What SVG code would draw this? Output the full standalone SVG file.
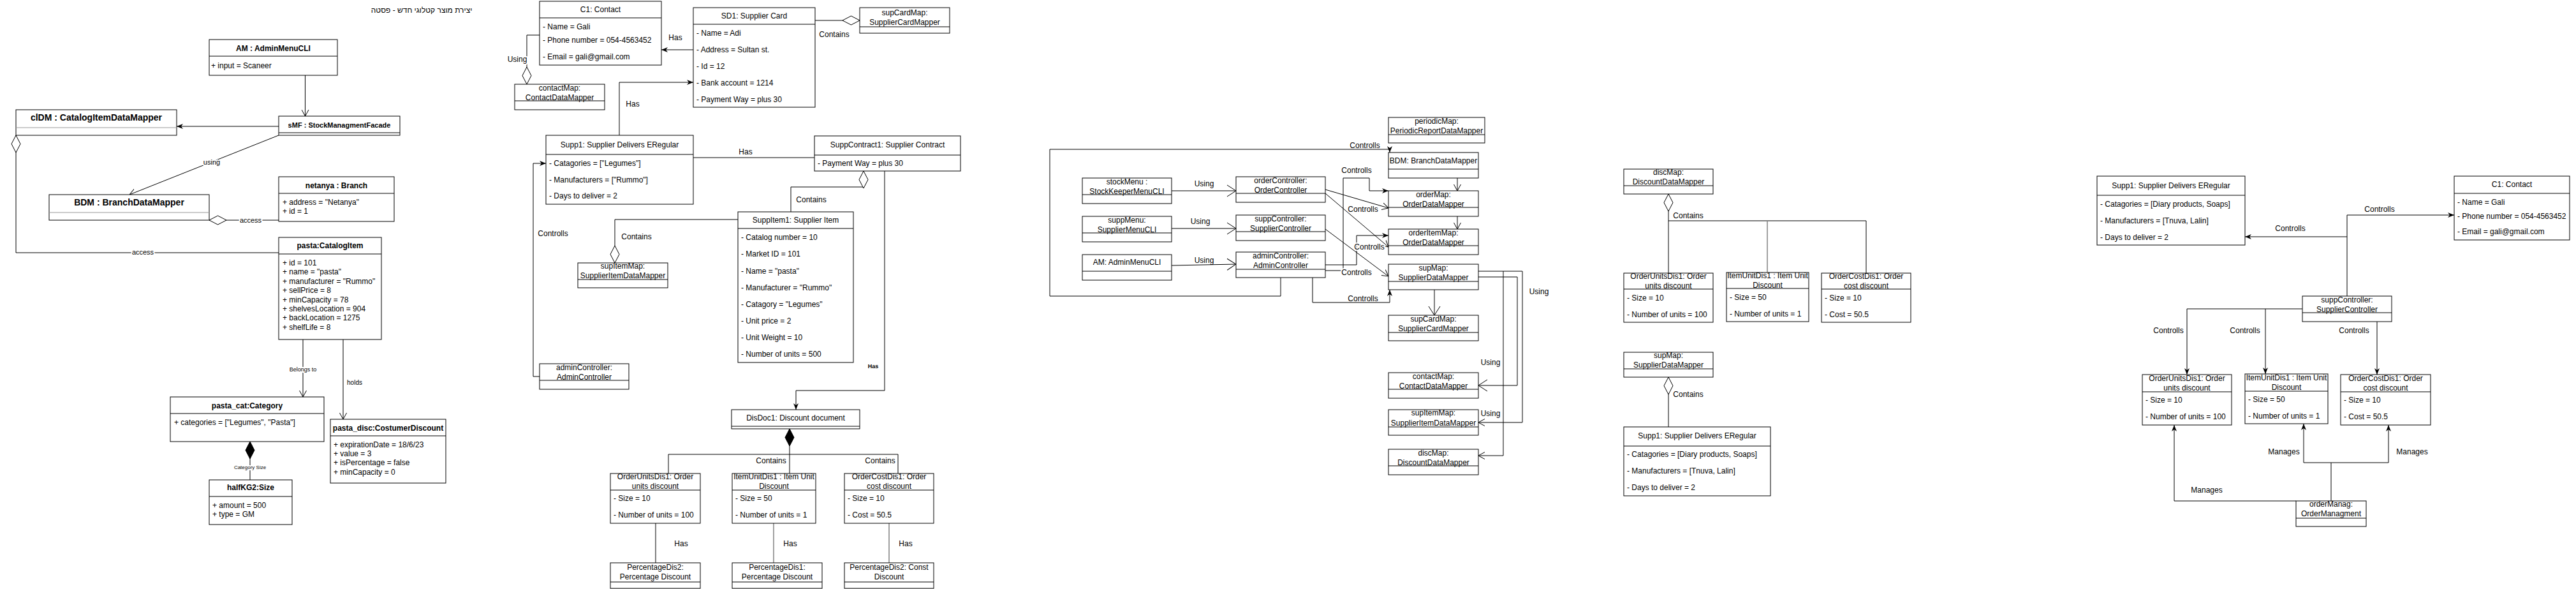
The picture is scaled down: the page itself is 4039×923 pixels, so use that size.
<svg xmlns="http://www.w3.org/2000/svg" width="4039" height="923" viewBox="0 0 4039 923">
<style>
.bx{fill:#fff;stroke:#000;stroke-width:1}
.sp{stroke:#000;stroke-width:1}
.sg{stroke:#999;stroke-width:1}
text{font-family:"Liberation Sans",Arial,Helvetica,sans-serif;font-size:12px;fill:#000}
.c{text-anchor:middle}
.b{font-weight:bold}
.e{fill:none;stroke:#000;stroke-width:1}
.g{fill:none;stroke:#808080;stroke-width:1.5}
.l{paint-order:stroke;stroke:#fff;stroke-width:4px;stroke-linejoin:round}
</style>
<defs>
<marker id="blk" viewBox="0 0 10 8" refX="10" refY="4" markerWidth="10" markerHeight="8" markerUnits="userSpaceOnUse" orient="auto"><path d="M0,0 L10,4 L0,8 L3,4 z" fill="#000"/></marker>
<marker id="opn" viewBox="0 0 10 12" refX="10" refY="6" markerWidth="10" markerHeight="12" markerUnits="userSpaceOnUse" orient="auto"><path d="M0,0.5 L10,6 L0,11.5" fill="none" stroke="#000"/></marker>
<marker id="opnL" viewBox="0 0 14 20" refX="14" refY="10" markerWidth="14" markerHeight="20" markerUnits="userSpaceOnUse" orient="auto"><path d="M0,1 L14,10 L0,19" fill="none" stroke="#000"/></marker>
<marker id="dia" viewBox="0 0 28 16" refX="0.5" refY="8" markerWidth="28" markerHeight="16" markerUnits="userSpaceOnUse" orient="auto"><path d="M0.5,8 L14,1 L27.5,8 L14,15 z" fill="#fff" stroke="#000"/></marker>
<marker id="diaF" viewBox="0 0 28 16" refX="0.5" refY="8" markerWidth="28" markerHeight="16" markerUnits="userSpaceOnUse" orient="auto"><path d="M0.5,8 L14,1 L27.5,8 L14,15 z" fill="#000" stroke="#000"/></marker>
</defs>
<rect x="0" y="0" width="4039" height="923" fill="#fff"/>
<text id="title" x="661" y="20" class="c">יצירת מוצר קטלוגי חדש - פסטה</text>

<g id="connectors">
<!-- left cluster -->
<path class="e" d="M478.5,118 V182" marker-end="url(#opn)"/>
<path class="e" d="M437,198 H277" marker-end="url(#blk)"/>
<path class="e" d="M437,212 L203,305" marker-end="url(#opn)"/>
<path class="e" d="M328,345 H437" marker-start="url(#dia)"/>
<path class="e" d="M25,212 V396 H437" marker-start="url(#dia)"/>
<path class="e" d="M475,532 V622" marker-end="url(#opn)"/>
<path class="e" d="M538,532 V657" marker-end="url(#opn)"/>
<path class="e" d="M392,692 V752" marker-start="url(#diaF)"/>
<text x="332" y="258" class="c l" style="font-size:11px">using</text>
<text x="393" y="349" class="c l" style="font-size:11px">access</text>
<text x="224" y="399" class="c l" style="font-size:11px">access</text>
<text x="475" y="582" class="c l" style="font-size:9px">Belongs to</text>
<text x="556" y="603" class="c" style="font-size:10px">holds</text>
<text x="392" y="735" class="c l" style="font-size:8px">Category Size</text>
<!-- middle cluster -->
<path class="e" d="M1087,78 H1037" marker-end="url(#blk)"/>
<path class="e" d="M1348,32 H1278" marker-start="url(#dia)"/>
<path class="e" d="M826,132 V55 H846" marker-start="url(#dia)"/>
<path class="e" d="M971,212 V129 H1087" marker-end="url(#blk)"/>
<path class="e" d="M1087,247 H1277"/>
<path class="e" d="M1354,268 V293 H1240 V332" marker-start="url(#dia)"/>
<path class="e" d="M964,412 V344 H1157" marker-start="url(#dia)"/>
<path class="e" d="M846,590 H836 V256 H856" marker-end="url(#blk)"/>
<path class="e" d="M1387,268 V612 H1248 V642" marker-end="url(#blk)"/>
<path class="e" d="M1238,672 V712" marker-start="url(#diaF)"/>
<path class="e" d="M1048,742 V712 H1408 V742"/>
<path class="e" d="M1238,712 V742"/>
<path class="e" d="M1028,820 V882"/>
<path class="g" d="M1213,820 V882"/>
<path class="g" d="M1394,820 V882"/>
<text x="1059" y="63" class="c">Has</text>
<text x="1308" y="58" class="c">Contains</text>
<text x="811" y="97" class="c l">Using</text>
<text x="992" y="167" class="c">Has</text>
<text x="1169" y="242" class="c">Has</text>
<text x="1272" y="317" class="c">Contains</text>
<text x="998" y="375" class="c">Contains</text>
<text x="867" y="370" class="c">Controlls</text>
<text x="1369" y="577" class="c b" style="font-size:9px">Has</text>
<text x="1209" y="726" class="c">Contains</text>
<text x="1380" y="726" class="c">Contains</text>
<text x="1068" y="856" class="c">Has</text>
<text x="1239" y="856" class="c">Has</text>
<text x="1420" y="856" class="c">Has</text>
<!-- controllers cluster -->
<path class="e" d="M1837,299 H1938" marker-end="url(#opnL)"/>
<path class="e" d="M1837,358 H1938" marker-end="url(#opnL)"/>
<path class="e" d="M1837,416 L1938,414" marker-end="url(#opnL)"/>
<path class="e" d="M2008,435 V464 H1646 V234 H2179 V239" marker-end="url(#blk)"/>
<path class="e" d="M2078,424 H2106 V279 H2147 V299 H2177" marker-end="url(#blk)"/>
<path class="e" d="M2078,415 H2127 V369 H2177" marker-end="url(#blk)"/>
<path class="e" d="M2078,297 L2177,326" marker-end="url(#opn)"/>
<path class="e" d="M2078,303 L2177,387" marker-end="url(#opn)"/>
<path class="e" d="M2078,359 L2177,433" marker-end="url(#opn)"/>
<path class="e" d="M2058,435 V474 H2179 V454" marker-end="url(#blk)"/>
<path class="e" d="M2285,279 V299" marker-end="url(#opn)"/>
<path class="e" d="M2285,339 V359" marker-end="url(#opn)"/>
<path class="e" d="M2249,454 V494" marker-end="url(#opnL)"/>
<path class="e" d="M2318,434 H2379 V604 H2318" marker-end="url(#opnL)"/>
<path class="e" d="M2318,425 H2387 V662 H2318" marker-end="url(#opn)"/>
<path class="e" d="M2357,425 V714 H2318" marker-end="url(#opn)"/>
<text x="1888" y="292" class="c">Using</text>
<text x="1882" y="351" class="c">Using</text>
<text x="1888" y="412" class="c">Using</text>
<text x="2140" y="232" class="c">Controlls</text>
<text x="2127" y="271" class="c">Controlls</text>
<text x="2137" y="332" class="c l">Controlls</text>
<text x="2147" y="391" class="c l">Controlls</text>
<text x="2127" y="431" class="c l">Controlls</text>
<text x="2137" y="472" class="c">Controlls</text>
<text x="2337" y="572" class="c">Using</text>
<text x="2337" y="652" class="c">Using</text>
<text x="2413" y="461" class="c">Using</text>
<!-- discMap cluster -->
<path class="e" d="M2616,304 V428" marker-start="url(#dia)"/>
<path class="e" d="M2616,346 H2926 V428"/>
<path class="g" d="M2771,346 V427"/>
<path class="e" d="M2616,591 V669" marker-start="url(#dia)"/>
<text x="2647" y="342" class="c">Contains</text>
<text x="2647" y="622" class="c">Contains</text>
<!-- right cluster -->
<path class="e" d="M3680,464 V337 H3848" marker-end="url(#blk)"/>
<path class="e" d="M3680,371 H3520" marker-end="url(#blk)"/>
<path class="e" d="M3610,484 H3429 V587" marker-end="url(#blk)"/>
<path class="e" d="M3552,484 V586" marker-end="url(#blk)"/>
<path class="e" d="M3727,504 V587" marker-end="url(#blk)"/>
<path class="e" d="M3600,785 H3409 V666" marker-end="url(#blk)"/>
<path class="e" d="M3655,785 V725"/>
<path class="e" d="M3612,725 H3745"/>
<path class="e" d="M3612,725 V664" marker-end="url(#blk)"/>
<path class="e" d="M3745,725 V666" marker-end="url(#blk)"/>
<text x="3731" y="332" class="c">Controlls</text>
<text x="3591" y="362" class="c">Controlls</text>
<text x="3400" y="522" class="c">Controlls</text>
<text x="3520" y="522" class="c">Controlls</text>
<text x="3691" y="522" class="c">Controlls</text>
<text x="3460" y="772" class="c">Manages</text>
<text x="3581" y="712" class="c">Manages</text>
<text x="3782" y="712" class="c">Manages</text>
</g>

<!-- ===== left cluster nodes ===== -->
<g id="AM"><rect class="bx" x="328" y="62" width="201" height="56"/><line class="sp" x1="328" y1="88" x2="529" y2="88"/><text x="428.5" y="80" class="c b">AM : AdminMenuCLI</text><text x="331" y="107">+ input = Scaneer</text></g>
<g id="sMF"><rect class="bx" x="437" y="182" width="190" height="30"/><line class="sp" x1="437" y1="208" x2="627" y2="208"/><text x="532" y="200" class="c b" style="font-size:11px">sMF : StockManagmentFacade</text></g>
<g id="clDM"><rect class="bx" x="25" y="172" width="252" height="40"/><line class="sg" x1="25" y1="200" x2="277" y2="200"/><text x="151" y="189" class="c b" style="font-size:14px">clDM : CatalogItemDataMapper</text></g>
<g id="BDM"><rect class="bx" x="77" y="305" width="251" height="40"/><line class="sg" x1="77" y1="333" x2="328" y2="333"/><text x="202.5" y="322" class="c b" style="font-size:14px">BDM : BranchDataMapper</text></g>
<g id="netanya"><rect class="bx" x="437" y="277" width="181" height="70"/><line class="sp" x1="437" y1="303" x2="618" y2="303"/><text x="527.5" y="295" class="c b">netanya : Branch</text><text x="443" y="321">+ address = "Netanya"</text><text x="443" y="335">+ id = 1</text></g>
<g id="pasta"><rect class="bx" x="437" y="372" width="161" height="160"/><line class="sp" x1="437" y1="398" x2="598" y2="398"/><text x="517.5" y="389" class="c b">pasta:CatalogItem</text>
<text x="443" y="416">+ id = 101</text><text x="443" y="430">+ name = "pasta"</text><text x="443" y="445">+ manufacturer = "Rummo"</text><text x="443" y="459">+ sellPrice = 8</text><text x="443" y="474">+ minCapacity = 78</text><text x="443" y="488">+ shelvesLocation = 904</text><text x="443" y="502">+ backLocation = 1275</text><text x="443" y="517">+ shelfLife = 8</text></g>
<g id="pasta_cat"><rect class="bx" x="267" y="622" width="241" height="70"/><line class="sp" x1="267" y1="648" x2="508" y2="648"/><text x="387.5" y="640" class="c b">pasta_cat:Category</text><text x="273" y="666">+ categories = ["Legumes", "Pasta"]</text></g>
<g id="halfKG2"><rect class="bx" x="328" y="752" width="130" height="70"/><line class="sp" x1="328" y1="778" x2="458" y2="778"/><text x="393" y="768" class="c b">halfKG2:Size</text><text x="333" y="796">+ amount = 500</text><text x="333" y="810">+ type = GM</text></g>
<g id="pasta_disc"><rect class="bx" x="518" y="657" width="181" height="100"/><line class="sp" x1="518" y1="683" x2="699" y2="683"/><text x="608.5" y="675" class="c b">pasta_disc:CostumerDiscount</text><text x="523" y="701">+ expirationDate = 18/6/23</text><text x="523" y="715">+ value = 3</text><text x="523" y="729">+ isPercentage = false</text><text x="523" y="744">+ minCapacity = 0</text></g>

<!-- ===== middle cluster nodes ===== -->
<g id="C1"><rect class="bx" x="846" y="2" width="191" height="100"/><line class="sp" x1="846" y1="28" x2="1037" y2="28"/><text x="941.5" y="19" class="c">C1: Contact</text><text x="851" y="46">- Name = Gali</text><text x="851" y="67">- Phone number = 054-4563452</text><text x="851" y="93">- Email = gali@gmail.com</text></g>
<g id="SD1"><rect class="bx" x="1087" y="12" width="191" height="156"/><line class="sp" x1="1087" y1="38" x2="1278" y2="38"/><text x="1182.5" y="29" class="c">SD1: Supplier Card</text><text x="1092" y="56">- Name = Adi</text><text x="1092" y="82">- Address = Sultan st.</text><text x="1092" y="108">- Id = 12</text><text x="1092" y="134">- Bank account = 1214</text><text x="1092" y="160">- Payment Way = plus 30</text></g>
<g id="supCardMap"><rect class="bx" x="1348" y="12" width="141" height="40"/><line class="sp" x1="1348" y1="42" x2="1489" y2="42"/><text x="1418.5" y="24" class="c">supCardMap:</text><text x="1418.5" y="39" class="c">SupplierCardMapper</text></g>
<g id="contactMap"><rect class="bx" x="807" y="132" width="141" height="40"/><line class="sp" x1="807" y1="158" x2="948" y2="158"/><text x="877.5" y="142" class="c">contactMap:</text><text x="877.5" y="157" class="c">ContactDataMapper</text></g>
<g id="Supp1"><rect class="bx" x="856" y="212" width="231" height="108"/><line class="sp" x1="856" y1="242" x2="1087" y2="242"/><text x="971.5" y="231" class="c">Supp1: Supplier Delivers ERegular</text><text x="861" y="260">- Catagories = ["Legumes"]</text><text x="861" y="286">- Manufacturers = ["Rummo"]</text><text x="861" y="311">- Days to deliver = 2</text></g>
<g id="SuppContract1"><rect class="bx" x="1277" y="213" width="229" height="55"/><line class="sp" x1="1277" y1="243" x2="1506" y2="243"/><text x="1391.5" y="231" class="c">SuppContract1: Supplier Contract</text><text x="1282" y="260">- Payment Way = plus 30</text></g>
<g id="SuppItem1"><rect class="bx" x="1157" y="332" width="181" height="236"/><line class="sp" x1="1157" y1="358" x2="1338" y2="358"/><text x="1247.5" y="349" class="c">SuppItem1: Supplier Item</text>
<text x="1162" y="376">- Catalog number = 10</text><text x="1162" y="402">- Market ID = 101</text><text x="1162" y="429">- Name = "pasta"</text><text x="1162" y="455">- Manufacturer = "Rummo"</text><text x="1162" y="481">- Catagory =  "Legumes"</text><text x="1162" y="507">- Unit price = 2</text><text x="1162" y="533">- Unit Weight = 10</text><text x="1162" y="559">- Number of units = 500</text></g>
<g id="supItemMap"><rect class="bx" x="906" y="412" width="141" height="39"/><line class="sp" x1="906" y1="438" x2="1047" y2="438"/><text x="976.5" y="421" class="c">supItemMap:</text><text x="976.5" y="436" class="c">SupplierItemDataMapper</text></g>
<g id="adminController"><rect class="bx" x="846" y="570" width="140" height="40"/><line class="sp" x1="846" y1="596" x2="986" y2="596"/><text x="916" y="580" class="c">adminController:</text><text x="916" y="595" class="c">AdminController</text></g>
<g id="DisDoc1"><rect class="bx" x="1147" y="642" width="201" height="30"/><line class="sp" x1="1147" y1="668" x2="1348" y2="668"/><text x="1247.5" y="659" class="c">DisDoc1: Discount document</text></g>
<g id="OrderUnitsDis1"><rect class="bx" x="957" y="742" width="141" height="78"/><line class="sp" x1="957" y1="768" x2="1098" y2="768"/><text x="1027.5" y="751" class="c">OrderUnitsDis1: Order</text><text x="1027.5" y="766" class="c">units discount</text><text x="962" y="785">- Size = 10</text><text x="962" y="811">- Number of units = 100</text></g>
<g id="ItemUnitDis1"><rect class="bx" x="1148" y="742" width="131" height="78"/><line class="sp" x1="1148" y1="768" x2="1279" y2="768"/><text x="1213.5" y="751" class="c">ItemUnitDis1 : Item Unit</text><text x="1213.5" y="766" class="c">Discount</text><text x="1153" y="785">- Size = 50</text><text x="1153" y="811">- Number of units = 1</text></g>
<g id="OrderCostDis1"><rect class="bx" x="1324" y="742" width="140" height="78"/><line class="sp" x1="1324" y1="768" x2="1464" y2="768"/><text x="1394" y="751" class="c">OrderCostDis1: Order</text><text x="1394" y="766" class="c">cost discount</text><text x="1329" y="785">- Size = 10</text><text x="1329" y="811">- Cost = 50.5</text></g>
<g id="PercentageDis2a"><rect class="bx" x="957" y="882" width="141" height="40"/><line class="sp" x1="957" y1="912" x2="1098" y2="912"/><text x="1027.5" y="893" class="c">PercentageDis2:</text><text x="1027.5" y="908" class="c">Percentage Discount</text></g>
<g id="PercentageDis1"><rect class="bx" x="1148" y="882" width="141" height="40"/><line class="sp" x1="1148" y1="912" x2="1289" y2="912"/><text x="1218.5" y="893" class="c">PercentageDis1:</text><text x="1218.5" y="908" class="c">Percentage Discount</text></g>
<g id="PercentageDis2b"><rect class="bx" x="1324" y="882" width="140" height="40"/><line class="sp" x1="1324" y1="912" x2="1464" y2="912"/><text x="1394" y="893" class="c">PercentageDis2: Const</text><text x="1394" y="908" class="c">Discount</text></g>

<!-- ===== controllers cluster nodes ===== -->
<g id="periodicMap"><rect class="bx" x="2177" y="184" width="151" height="40"/><line class="sp" x1="2177" y1="211" x2="2328" y2="211"/><text x="2252.5" y="194" class="c">periodicMap:</text><text x="2252.5" y="209" class="c">PeriodicReportDataMapper</text></g>
<g id="BDM2"><rect class="bx" x="2177" y="239" width="141" height="40"/><line class="sp" x1="2177" y1="265" x2="2318" y2="265"/><text x="2247.5" y="256" class="c">BDM: BranchDataMapper</text></g>
<g id="stockMenu"><rect class="bx" x="1697" y="279" width="140" height="40"/><line class="sp" x1="1697" y1="305" x2="1837" y2="305"/><text x="1767" y="289" class="c">stockMenu :</text><text x="1767" y="304" class="c">StockKeeperMenuCLI</text></g>
<g id="suppMenu"><rect class="bx" x="1697" y="339" width="140" height="40"/><line class="sp" x1="1697" y1="365" x2="1837" y2="365"/><text x="1767" y="349" class="c">suppMenu:</text><text x="1767" y="364" class="c">SupplierMenuCLI</text></g>
<g id="AM2"><rect class="bx" x="1697" y="399" width="140" height="40"/><line class="sp" x1="1697" y1="425" x2="1837" y2="425"/><text x="1767" y="415" class="c">AM: AdminMenuCLI</text></g>
<g id="orderController"><rect class="bx" x="1938" y="277" width="140" height="40"/><line class="sp" x1="1938" y1="303" x2="2078" y2="303"/><text x="2008" y="287" class="c">orderController:</text><text x="2008" y="302" class="c">OrderController</text></g>
<g id="suppController"><rect class="bx" x="1938" y="337" width="140" height="40"/><line class="sp" x1="1938" y1="363" x2="2078" y2="363"/><text x="2008" y="347" class="c">suppController:</text><text x="2008" y="362" class="c">SupplierController</text></g>
<g id="adminController2"><rect class="bx" x="1938" y="395" width="140" height="40"/><line class="sp" x1="1938" y1="422" x2="2078" y2="422"/><text x="2008" y="405" class="c">adminController:</text><text x="2008" y="420" class="c">AdminController</text></g>
<g id="orderMap"><rect class="bx" x="2177" y="299" width="141" height="40"/><line class="sp" x1="2177" y1="325" x2="2318" y2="325"/><text x="2247.5" y="309" class="c">orderMap:</text><text x="2247.5" y="324" class="c">OrderDataMapper</text></g>
<g id="orderItemMap"><rect class="bx" x="2177" y="359" width="141" height="40"/><line class="sp" x1="2177" y1="385" x2="2318" y2="385"/><text x="2247.5" y="369" class="c">orderItemMap:</text><text x="2247.5" y="384" class="c">OrderDataMapper</text></g>
<g id="supMap"><rect class="bx" x="2177" y="414" width="141" height="40"/><line class="sp" x1="2177" y1="441" x2="2318" y2="441"/><text x="2247.5" y="424" class="c">supMap:</text><text x="2247.5" y="439" class="c">SupplierDataMapper</text></g>
<g id="supCardMap2"><rect class="bx" x="2177" y="494" width="141" height="40"/><line class="sp" x1="2177" y1="521" x2="2318" y2="521"/><text x="2247.5" y="504" class="c">supCardMap:</text><text x="2247.5" y="519" class="c">SupplierCardMapper</text></g>
<g id="contactMap2"><rect class="bx" x="2177" y="584" width="141" height="40"/><line class="sp" x1="2177" y1="610" x2="2318" y2="610"/><text x="2247.5" y="594" class="c">contactMap:</text><text x="2247.5" y="609" class="c">ContactDataMapper</text></g>
<g id="supItemMap2"><rect class="bx" x="2177" y="642" width="141" height="40"/><line class="sp" x1="2177" y1="669" x2="2318" y2="669"/><text x="2247.5" y="651" class="c">supItemMap:</text><text x="2247.5" y="667" class="c">SupplierItemDataMapper</text></g>
<g id="discMap2"><rect class="bx" x="2177" y="704" width="141" height="40"/><line class="sp" x1="2177" y1="730" x2="2318" y2="730"/><text x="2247.5" y="714" class="c">discMap:</text><text x="2247.5" y="729" class="c">DiscountDataMapper</text></g>

<!-- ===== discMap cluster nodes ===== -->
<g id="discMap3"><rect class="bx" x="2546" y="265" width="140" height="39"/><line class="sp" x1="2546" y1="291" x2="2686" y2="291"/><text x="2616" y="274" class="c">discMap:</text><text x="2616" y="289" class="c">DiscountDataMapper</text></g>
<g id="OrderUnitsDis1b"><rect class="bx" x="2546" y="428" width="140" height="77"/><line class="sp" x1="2546" y1="453" x2="2686" y2="453"/><text x="2616" y="437" class="c">OrderUnitsDis1: Order</text><text x="2616" y="452" class="c">units discount</text><text x="2551" y="471">- Size = 10</text><text x="2551" y="497">- Number of units = 100</text></g>
<g id="ItemUnitDis1b"><rect class="bx" x="2707" y="427" width="129" height="77"/><line class="sp" x1="2707" y1="452" x2="2836" y2="452"/><text x="2771.5" y="436" class="c">ItemUnitDis1 : Item Unit</text><text x="2771.5" y="451" class="c">Discount</text><text x="2712" y="470">- Size = 50</text><text x="2712" y="496">- Number of units = 1</text></g>
<g id="OrderCostDis1b"><rect class="bx" x="2856" y="428" width="140" height="77"/><line class="sp" x1="2856" y1="453" x2="2996" y2="453"/><text x="2926" y="437" class="c">OrderCostDis1: Order</text><text x="2926" y="452" class="c">cost discount</text><text x="2861" y="471">- Size = 10</text><text x="2861" y="497">- Cost = 50.5</text></g>
<g id="supMap3"><rect class="bx" x="2546" y="552" width="140" height="39"/><line class="sp" x1="2546" y1="578" x2="2686" y2="578"/><text x="2616" y="561" class="c">supMap:</text><text x="2616" y="576" class="c">SupplierDataMapper</text></g>
<g id="Supp1b"><rect class="bx" x="2546" y="669" width="230" height="108"/><line class="sp" x1="2546" y1="699" x2="2776" y2="699"/><text x="2661" y="687" class="c">Supp1: Supplier Delivers ERegular</text><text x="2551" y="716">- Catagories = [Diary products, Soaps]</text><text x="2551" y="742">- Manufacturers = [Tnuva, Lalin]</text><text x="2551" y="768">- Days to deliver = 2</text></g>

<!-- ===== right cluster nodes ===== -->
<g id="Supp1c"><rect class="bx" x="3288" y="276" width="232" height="108"/><line class="sp" x1="3288" y1="306" x2="3520" y2="306"/><text x="3404" y="295" class="c">Supp1: Supplier Delivers ERegular</text><text x="3293" y="324">- Catagories = [Diary products, Soaps]</text><text x="3293" y="350">- Manufacturers = [Tnuva, Lalin]</text><text x="3293" y="376">- Days to deliver = 2</text></g>
<g id="C1b"><rect class="bx" x="3848" y="276" width="181" height="100"/><line class="sp" x1="3848" y1="303" x2="4029" y2="303"/><text x="3938.5" y="293" class="c">C1: Contact</text><text x="3853" y="321">- Name = Gali</text><text x="3853" y="343">- Phone number = 054-4563452</text><text x="3853" y="367">- Email = gali@gmail.com</text></g>
<g id="suppController3"><rect class="bx" x="3610" y="464" width="140" height="40"/><line class="sp" x1="3610" y1="490" x2="3750" y2="490"/><text x="3680" y="474" class="c">suppController:</text><text x="3680" y="489" class="c">SupplierController</text></g>
<g id="OrderUnitsDis1c"><rect class="bx" x="3359" y="587" width="140" height="79"/><line class="sp" x1="3359" y1="614" x2="3499" y2="614"/><text x="3429" y="597" class="c">OrderUnitsDis1: Order</text><text x="3429" y="612" class="c">units discount</text><text x="3364" y="631">- Size = 10</text><text x="3364" y="657">- Number of units = 100</text></g>
<g id="ItemUnitDis1c"><rect class="bx" x="3520" y="586" width="130" height="78"/><line class="sp" x1="3520" y1="613" x2="3650" y2="613"/><text x="3585" y="596" class="c">ItemUnitDis1 : Item Unit</text><text x="3585" y="611" class="c">Discount</text><text x="3525" y="630">- Size = 50</text><text x="3525" y="656">- Number of units = 1</text></g>
<g id="OrderCostDis1c"><rect class="bx" x="3670" y="587" width="141" height="79"/><line class="sp" x1="3670" y1="614" x2="3811" y2="614"/><text x="3740.5" y="597" class="c">OrderCostDis1: Order</text><text x="3740.5" y="612" class="c">cost discount</text><text x="3675" y="631">- Size = 10</text><text x="3675" y="657">- Cost = 50.5</text></g>
<g id="orderManag"><rect class="bx" x="3600" y="785" width="110" height="40"/><line class="sp" x1="3600" y1="812" x2="3710" y2="812"/><text x="3655" y="794" class="c">orderManag:</text><text x="3655" y="809" class="c">OrderManagment</text></g>
</svg>
